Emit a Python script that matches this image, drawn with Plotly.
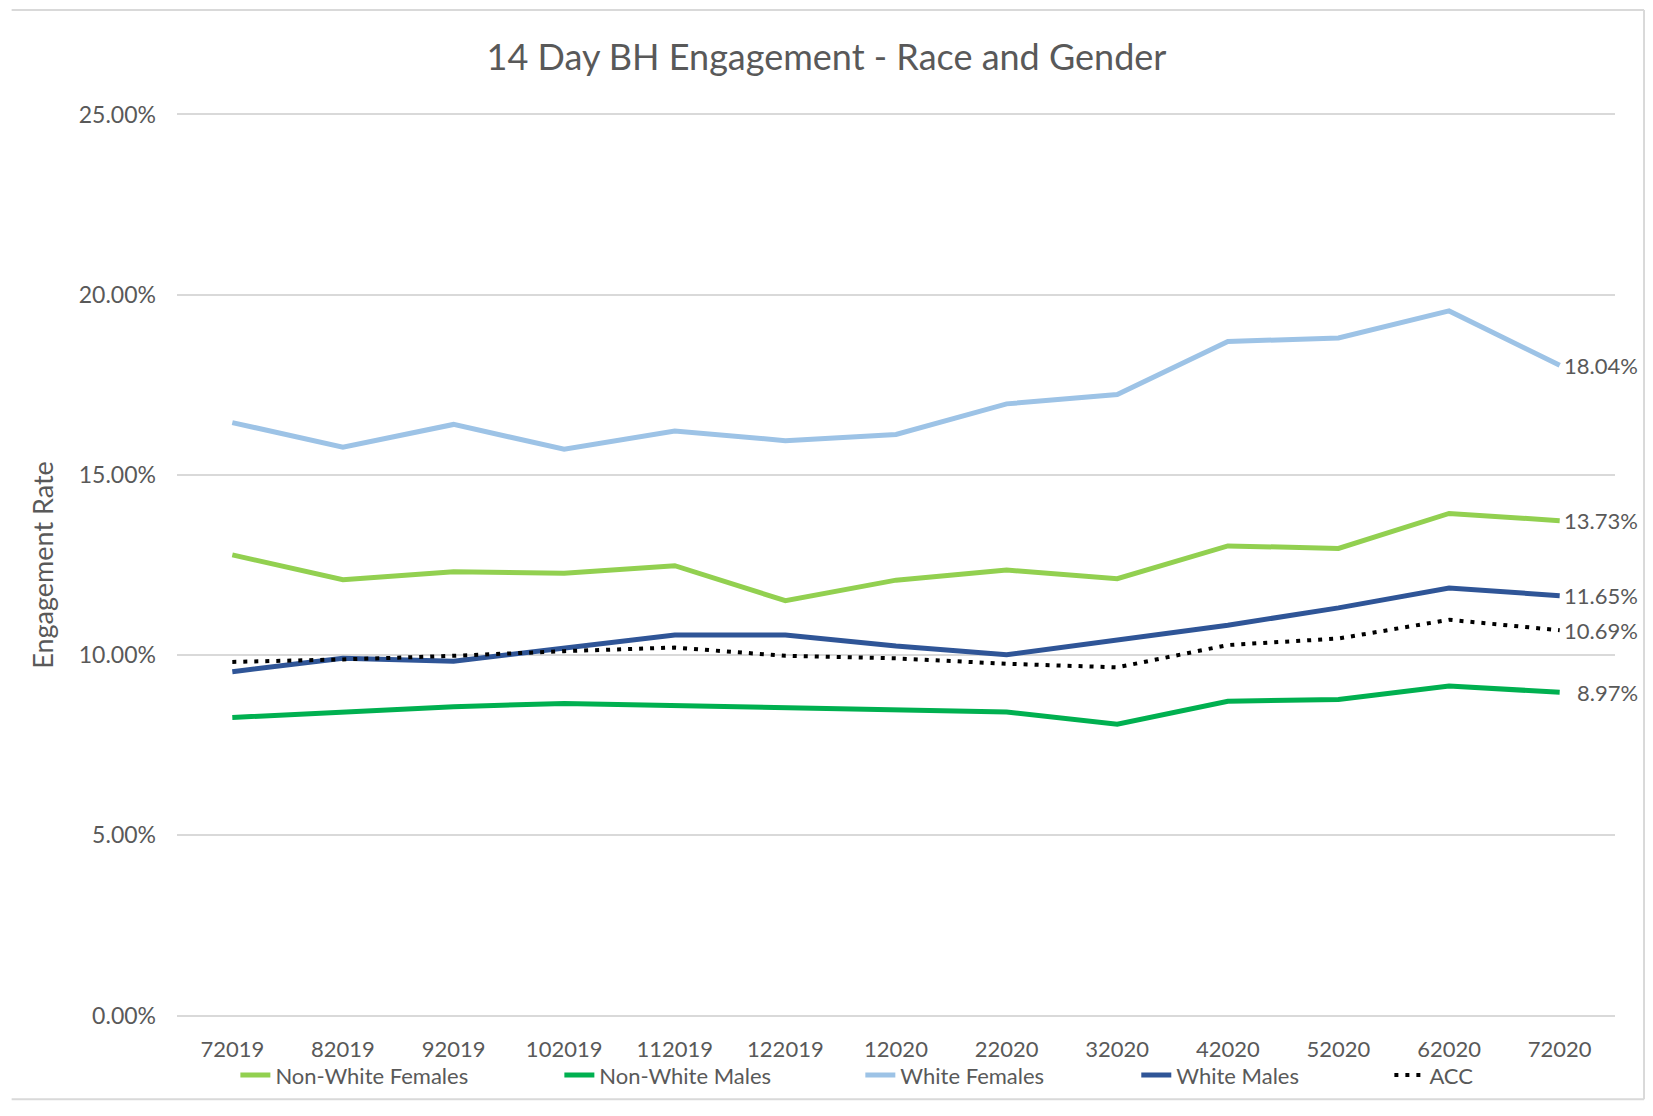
import plotly.graph_objects as go

months = ["72019", "82019", "92019", "102019", "112019", "122019", "12020",
          "22020", "32020", "42020", "52020", "62020", "72020"]

non_white_females = [12.78, 12.09, 12.31, 12.27, 12.48, 11.51, 12.08, 12.36, 12.12, 13.03, 12.96, 13.93, 13.73]
non_white_males = [8.27, 8.42, 8.57, 8.66, 8.60, 8.56, 8.50, 8.42, 8.08, 8.72, 8.77, 9.14, 8.97]
white_females = [16.45, 15.77, 16.40, 15.71, 16.22, 15.95, 16.12, 16.97, 17.23, 18.70, 18.80, 19.55, 18.04]
white_males = [9.54, 9.91, 9.83, 10.19, 10.56, 10.56, 10.25, 10.01, 10.42, 10.83, 11.31, 11.86, 11.65]
acc = [9.81, 9.88, 9.98, 10.11, 10.21, 9.98, 9.91, 9.76, 9.66, 10.28, 10.46, 10.98, 10.69]

series = [
    ("Non-White Females", non_white_females, "#92D050", "solid"),
    ("Non-White Males", non_white_males, "#00B050", "solid"),
    ("White Females", white_females, "#9DC3E6", "solid"),
    ("White Males", white_males, "#2F5597", "solid"),
    ("ACC", acc, "#000000", "4px,7px"),
]

FONT = "Lato, 'Open Sans', sans-serif"
GRAY = "#595959"

# horizontal position (paper) of each legend entry, in series order
legend_x = [0.0406, 0.2659, 0.4752, 0.6671, 0.8431]
legend_ids = ["legend", "legend2", "legend3", "legend4", "legend5"]

fig = go.Figure()
for (name, vals, color, dash), lid in zip(series, legend_ids):
    fig.add_trace(go.Scatter(
        x=months, y=[v / 100 for v in vals], name=name, mode="lines",
        line=dict(color=color, width=5 if dash == "solid" else 4, dash=dash),
        legend=lid,
    ))
    fig.add_annotation(
        x=len(months) - 1, y=vals[-1] / 100, text=f"{vals[-1]:.2f}%",
        showarrow=False, xanchor="right", yanchor="middle", xshift=80,
        font=dict(family=FONT, size=22, color=GRAY),
    )

legend_style = {}
for lid, lx in zip(legend_ids, legend_x):
    legend_style[lid] = dict(orientation="h", x=lx, xanchor="left", y=-0.0645, yanchor="middle",
                             font=dict(family=FONT, size=22, color=GRAY),
                             bgcolor="rgba(0,0,0,0)")

fig.update_layout(
    width=1637, height=1100,
    margin=dict(l=169, r=30, t=105, b=84),
    paper_bgcolor="white", plot_bgcolor="white",
    title=dict(text="14 Day BH Engagement - Race and Gender", x=0.5, xanchor="center",
               y=0.955, yanchor="middle",
               font=dict(family=FONT, size=36, color=GRAY)),
    font=dict(family=FONT, color=GRAY),
    showlegend=True,
    xaxis=dict(type="category", range=[-0.5, len(months) - 0.5], showgrid=False,
               showline=False, zeroline=False,
               tickfont=dict(family=FONT, size=22, color=GRAY), ticks="",
               ticklabelstandoff=17),
    yaxis=dict(range=[-0.0004, 0.2504], tickvals=[0, 0.05, 0.10, 0.15, 0.20, 0.25],
               tickformat=".2%", showgrid=True,
               gridcolor="#D9D9D9", gridwidth=1.5, zeroline=False, showline=False,
               tickfont=dict(family=FONT, size=23, color=GRAY), ticks="",
               ticklabelstandoff=20,
               title=dict(text="Engagement Rate", standoff=17,
                          font=dict(family=FONT, size=27, color=GRAY))),
    **legend_style,
)

# chart frame (light gray border)
frame = dict(color="#D9D9D9", width=2)
fig.add_shape(type="line", xref="paper", yref="paper", x0=-0.115, x1=1.0202, y0=1.114, y1=1.114, line=frame)
fig.add_shape(type="line", xref="paper", yref="paper", x0=1.0202, x1=1.0202, y0=1.114, y1=-0.0911, line=frame)
fig.add_shape(type="line", xref="paper", yref="paper", x0=-0.115, x1=1.0202, y0=-0.0911, y1=-0.0911, line=frame)

fig.write_html("out.html")
